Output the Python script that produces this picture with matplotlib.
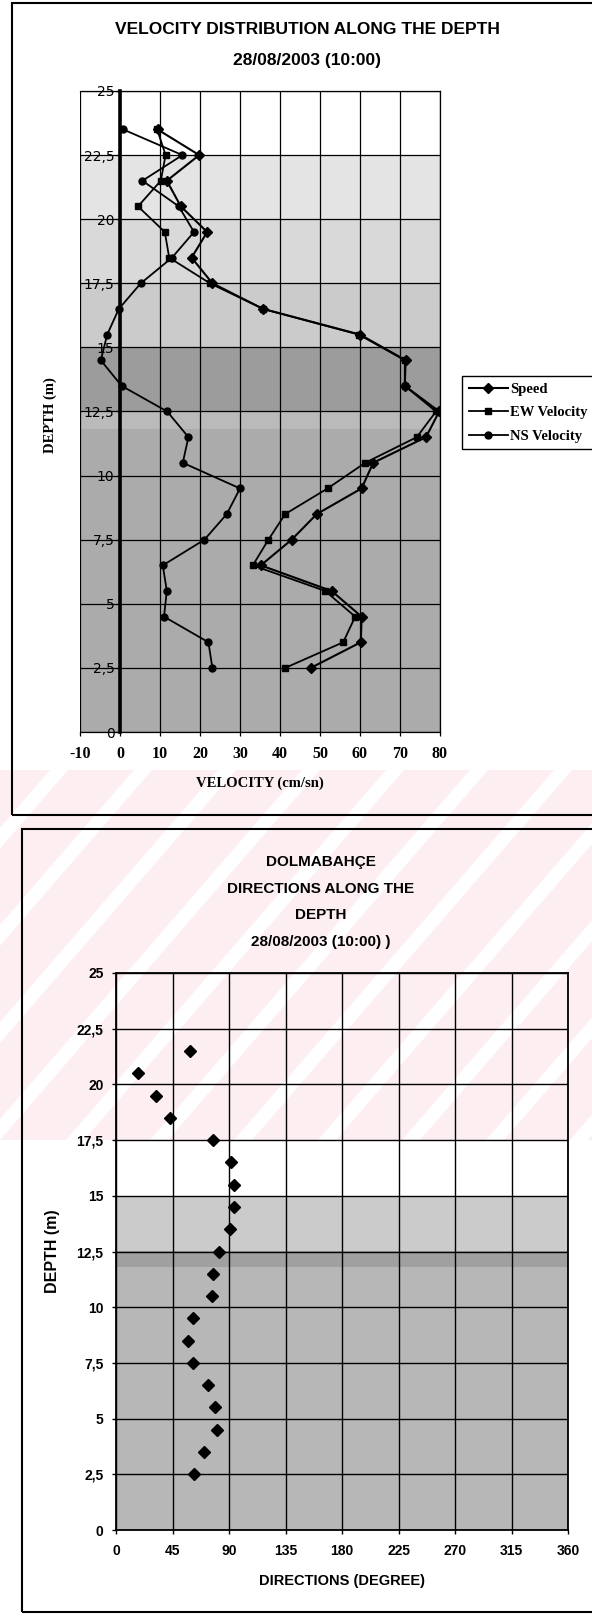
import matplotlib.pyplot as plt
from matplotlib.lines import Line2D
from matplotlib.patches import Polygon, Rectangle
import numpy as np

# values
depth = [2.5, 3.5, 4.5, 5.5, 6.5, 7.5, 8.5, 9.5, 10.5, 11.5, 12.5,
         13.5, 14.5, 15.5, 16.5, 17.5, 18.5, 19.5, 20.5, 21.5, 22.5, 23.5]
speed = [47.7, 60.2, 60.4, 52.9, 35.2, 42.9, 49.2, 60.4, 63.3, 76.5, 79.8,
         71.2, 71.4, 60.0, 35.8, 23.1, 17.9, 21.8, 15.2, 11.7, 19.8, 9.4]
ew_velocity = [41.3, 55.8, 58.8, 51.3, 33.2, 37.1, 41.3, 51.9, 61.3, 74.2, 79.0,
               71.2, 71.2, 59.7, 35.8, 22.5, 12.3, 11.2, 4.5, 10.2, 11.4, 9.3]
ns_velocity = [23.1, 22.1, 11.0, 11.7, 10.7, 21.1, 26.7, 30.0, 15.7, 17.1, 11.8,
               0.4, -4.8, -3.2, -0.3, 5.2, 13.0, 18.5, 14.7, 5.6, 15.6, 0.8]

dir_depth = [2.5, 3.5, 4.5, 5.5, 6.5, 7.5, 8.5, 9.5, 10.5, 11.5, 12.5,
             13.5, 14.5, 15.5, 16.5, 17.5, 18.5, 19.5, 20.5, 21.5]
direction = [62, 70, 80.6, 78.5, 73, 61.4, 57.4, 61.4, 76.6, 77.4, 82,
             90.8, 94, 94, 91.3, 77.2, 43.3, 31.8, 17.4, 58.8]

vel_ticks = [-10, 0, 10, 20, 30, 40, 50, 60, 70, 80]
depth_ticks = [0, 2.5, 5, 7.5, 10, 12.5, 15, 17.5, 20, 22.5, 25]
dir_ticks = [0, 45, 90, 135, 180, 225, 270, 315, 360]

W, H = 592, 1617
SERIF = 'Liberation Serif'
SANS = 'Liberation Sans'


def fx(px):
    return px / W


def fy(py):
    return 1 - py / H


def comma(v):
    return f"{v:g}".replace('.', ',')


fig = plt.figure(figsize=(W / 100, H / 100), dpi=100)

# faint pink watermark of the scanned page
bg = fig.add_axes([0, 0, 1, 1])
bg.set_xlim(0, W)
bg.set_ylim(H, 0)
bg.axis('off')
bg.set_zorder(-5)
clip = Rectangle((0, 770), W, 1140 - 770, transform=bg.transData)
for x0 in range(-420, 700, 84):
    band = Polygon([(x0, 1140), (x0 + 66, 1140), (x0 + 66 + 320, 770), (x0 + 320, 770)],
                   closed=True, fc='#fdeff1', ec='none')
    bg.add_patch(band)
    band.set_clip_path(clip)

# ---------------- velocity chart ----------------
ax1 = fig.add_axes([fx(80), fy(732), (440 - 80) / W, (732 - 91) / H])
ax1.set_xlim(-10, 80)
ax1.set_ylim(0, 25)
top_bands = [(0, 11.8, '#ababab'), (11.8, 12.5, '#bababa'), (12.5, 15, '#9c9c9c'),
             (15, 17.5, '#cbcbcb'), (17.5, 20, '#d9d9d9'), (20, 22.5, '#e4e4e4')]
for lo, hi, c in top_bands:
    ax1.axhspan(lo, hi, color=c, lw=0, zorder=0)

ax1.set_xticks(vel_ticks)
ax1.set_xticklabels([str(v) for v in vel_ticks], family=SERIF, weight='bold', fontsize=11.5)
ax1.set_yticks(depth_ticks)
ax1.set_yticklabels([comma(v) for v in depth_ticks], family=SERIF, weight='bold',
                    fontsize=9, color='#333333')
ax1.grid(True, color='black', lw=0.9, zorder=1)
ax1.set_axisbelow(True)
ax1.spines['left'].set_position(('data', 0))
ax1.spines['left'].set_linewidth(2.6)
for s in ('top', 'right', 'bottom'):
    ax1.spines[s].set_linewidth(0.9)
ax1.axvline(-10, color='black', lw=1.2, zorder=1)
ax1.tick_params(axis='y', length=3, pad=1, width=0.9)
ax1.tick_params(axis='x', length=3, pad=7, width=0.9)

ax1.plot(speed, depth, color='black', lw=1.5, marker='D', ms=5, zorder=3)
ax1.plot(ew_velocity, depth, color='black', lw=1.3, marker='s', ms=5, zorder=3)
ax1.plot(ns_velocity, depth, color='black', lw=1.3, marker='o', ms=5, zorder=3)

handles = [Line2D([], [], color='black', lw=1.5, marker='D', ms=5),
           Line2D([], [], color='black', lw=1.3, marker='s', ms=5),
           Line2D([], [], color='black', lw=1.3, marker='o', ms=5)]
leg = fig.legend(handles, ['Speed', 'EW Velocity', 'NS Velocity'], loc='upper left',
                 bbox_to_anchor=(fx(462), fy(376)), bbox_transform=fig.transFigure,
                 prop={'family': SERIF, 'weight': 'bold', 'size': 10.5},
                 frameon=True, fancybox=False, edgecolor='black', framealpha=1,
                 handlelength=2.7, handletextpad=0.15, borderpad=0.45,
                 labelspacing=0.7, borderaxespad=0)
leg.get_frame().set_linewidth(1.0)

fig.text(fx(307), fy(30), 'VELOCITY DISTRIBUTION ALONG THE DEPTH', ha='center',
         va='center', family=SANS, weight='bold', fontsize=12.5)
fig.text(fx(307), fy(60), '28/08/2003 (10:00)', ha='center', va='center',
         family=SANS, weight='bold', fontsize=12.5)
fig.text(fx(260), fy(783), 'VELOCITY (cm/sn)', ha='center', va='center',
         family=SERIF, weight='bold', fontsize=10.5)
fig.text(fx(50), fy(415), 'DEPTH (m)', ha='center', va='center', rotation=90,
         family=SERIF, weight='bold', fontsize=10.5)

# ---------------- direction chart ----------------
ax2 = fig.add_axes([fx(116), fy(1530), (568 - 116) / W, (1530 - 973) / H])
ax2.set_facecolor('none')
ax2.set_xlim(0, 360)
ax2.set_ylim(0, 25)
bottom_bands = [(0, 11.8, '#b7b7b7'), (11.8, 12.5, '#a0a0a0'), (12.5, 15, '#cbcbcb')]
for lo, hi, c in bottom_bands:
    ax2.axhspan(lo, hi, color=c, lw=0, zorder=0)

ax2.set_xticks(dir_ticks)
ax2.set_xticklabels([str(v) for v in dir_ticks], family=SANS, weight='bold', fontsize=10)
ax2.set_yticks(depth_ticks)
ax2.set_yticklabels([comma(v) for v in depth_ticks], family=SANS, weight='bold', fontsize=10)
ax2.grid(True, color='black', lw=1.0, zorder=1)
ax2.set_axisbelow(True)
for s in ax2.spines.values():
    s.set_linewidth(1.3)
ax2.tick_params(axis='y', length=3, pad=6, width=1)
ax2.tick_params(axis='x', length=3, pad=7, width=1)

ax2.plot(direction, dir_depth, linestyle='none', marker='D', ms=6.5,
         color='black', zorder=3)

for i, line in enumerate(['DOLMABAHÇE', 'DIRECTIONS ALONG THE', 'DEPTH',
                          '28/08/2003 (10:00) )']):
    fig.text(fx(321), fy(862 + 26.7 * i), line, ha='center', va='center',
             family=SANS, weight='bold', fontsize=11)
fig.text(fx(342), fy(1581), 'DIRECTIONS (DEGREE)', ha='center', va='center',
         family=SANS, weight='bold', fontsize=10.5)
fig.text(fx(53), fy(1251), 'DEPTH (m)', ha='center', va='center', rotation=90,
         family=SANS, weight='bold', fontsize=11.5)

# page frames around both charts
fig.add_artist(Rectangle((fx(12), fy(815)), 1.0, (815 - 3) / H, transform=fig.transFigure,
                         fill=False, ec='black', lw=1.5))
fig.add_artist(Rectangle((fx(22), fy(1612)), 1.0, (1612 - 829) / H, transform=fig.transFigure,
                         fill=False, ec='black', lw=1.5))

fig.savefig('out.png', dpi=100)
